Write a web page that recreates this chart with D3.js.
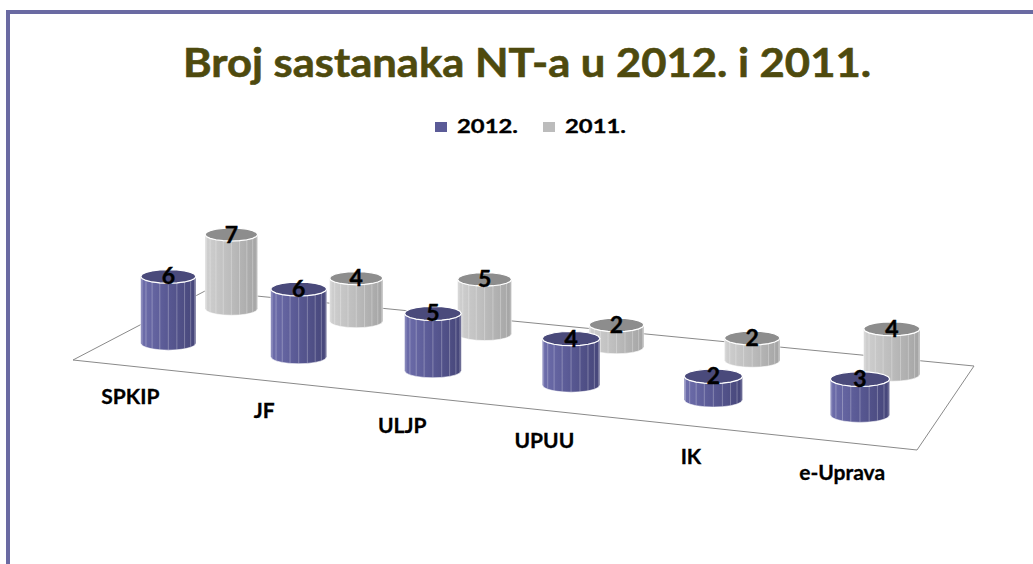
<!DOCTYPE html>
<html>
<head>
<meta charset="utf-8">
<script src="https://cdn.jsdelivr.net/npm/d3@7"></script>
<style>
  body { margin: 0; background: #fff; }
  svg { display: block; }
</style>
</head>
<body>
<div id="chart"></div>
<script>
// chart data
const categories = ["SPKIP", "JF", "ULJP", "UPUU", "IK", "e-Uprava"];
const seriesNames = ["2012.", "2011."];
const values2012 = [6, 6, 5, 4, 2, 3];
const values2011 = [7, 4, 5, 2, 2, 4];
const chartTitle = "Broj sastanaka NT-a u 2012. i 2011.";

const width = 1033, height = 564;

const svg = d3.select("#chart").append("svg")
    .attr("width", width)
    .attr("height", height);

// slide frame (only top and left edges are visible)
svg.append("rect")
    .attr("x", 8).attr("y", 12)
    .attr("width", 1100).attr("height", 700)
    .attr("fill", "none")
    .attr("stroke", "#6a6aa2")
    .attr("stroke-width", 4);

// floor corners on screen: front-left, front-right, back-right, back-left
const floor = [[73, 360], [917, 450], [974, 366], [205, 291]];

// square -> quad homography so the floor gets its perspective
function makeProjection(q) {
    const [x0, y0] = q[0], [x1, y1] = q[1], [x2, y2] = q[2], [x3, y3] = q[3];
    const dx1 = x1 - x2, dy1 = y1 - y2, dx2 = x3 - x2, dy2 = y3 - y2;
    const dx3 = x0 - x1 + x2 - x3, dy3 = y0 - y1 + y2 - y3;
    const den = dx1 * dy2 - dx2 * dy1;
    const g = (dx3 * dy2 - dx2 * dy3) / den;
    const h = (dx1 * dy3 - dx3 * dy1) / den;
    const a = x1 - x0 + g * x1, b = x3 - x0 + h * x3, c = x0;
    const d = y1 - y0 + g * y1, e = y3 - y0 + h * y3, f = y0;
    return function (u, w) {
        const s = g * u + h * w + 1;
        return [(a * u + b * w + c) / s, (d * u + e * w + f) / s, s];
    };
}
const project = makeProjection(floor);

// scales: category along the floor, series in depth, value up
const xScale = d3.scalePoint().domain(categories).range([0.07, 0.915]);
const zScale = d3.scalePoint().domain(seriesNames).range([0.3, 0.8]);
const yScale = d3.scaleLinear().domain([0, 7]).range([0, 80]);
const color = d3.scaleOrdinal().domain(seriesNames).range(["#5b5b97", "#bcbcbc"]);

const shades = {
    "2012.": { light: "#6e6eac", mid: "#5a5a95", dark: "#464679", top: "#4a4a7b" },
    "2011.": { light: "#d0d0d0", mid: "#bebebe", dark: "#a4a4a4", top: "#8d8d8d" }
};

// gradients for the cylinder sides
const defs = svg.append("defs");
seriesNames.forEach((s, i) => {
    const grad = defs.append("linearGradient")
        .attr("id", "side" + i)
        .attr("x1", "0%").attr("x2", "100%").attr("y1", "0%").attr("y2", "0%");
    grad.append("stop").attr("offset", "0%").attr("stop-color", shades[s].light);
    grad.append("stop").attr("offset", "45%").attr("stop-color", shades[s].mid);
    grad.append("stop").attr("offset", "100%").attr("stop-color", shades[s].dark);
});

// floor outline
svg.append("polygon")
    .attr("points", floor.map(p => p.join(",")).join(" "))
    .attr("fill", "none")
    .attr("stroke", "#8a8a8a")
    .attr("stroke-width", 1);

// title
svg.append("text")
    .attr("x", 183).attr("y", 77)
    .attr("font-family", "Lato, 'Open Sans', sans-serif")
    .attr("font-weight", "bold")
    .attr("font-size", 41)
    .attr("fill", "#4e4a0e")
    .attr("stroke", "#4e4a0e")
    .attr("stroke-width", 0.6)
    .attr("textLength", 688)
    .attr("lengthAdjust", "spacingAndGlyphs")
    .text(chartTitle);

// legend
const legendX = [435, 543];
const legend = svg.append("g");
seriesNames.forEach((s, i) => {
    legend.append("rect")
        .attr("x", legendX[i]).attr("y", 122)
        .attr("width", 12).attr("height", 10)
        .attr("fill", color(s));
    legend.append("text")
        .attr("x", legendX[i] + 22).attr("y", 133)
        .attr("font-family", "Lato, sans-serif")
        .attr("font-weight", "bold")
        .attr("font-size", 18)
        .attr("stroke", "#000")
        .attr("stroke-width", 0.3)
        .attr("textLength", 61)
        .attr("lengthAdjust", "spacingAndGlyphs")
        .text(s);
});

// bar records, back row first so the front row overlaps it
const bars = [];
seriesNames.forEach((s, si) => {
    const vals = si === 0 ? values2012 : values2011;
    categories.forEach((c, ci) => bars.push({ series: s, si: si, cat: c, value: vals[ci] }));
});
bars.sort((a, b) => zScale(b.series) - zScale(a.series) || xScale(a.cat) - xScale(b.cat));

const N = 20;           // facets around the cylinder
const radius = 28.3, squash = 7;

const barG = svg.append("g");
bars.forEach(d => {
    const [cx, by, s] = project(xScale(d.cat), zScale(d.series));
    const rx = radius / s, ry = squash / s;
    const ty = by - yScale(d.value) / s;
    const pt = (k, yc) => {
        const t = 2 * Math.PI * k / N;
        return [cx + rx * Math.cos(t), yc + ry * Math.sin(t)];
    };
    const g = barG.append("g");

    // side: bottom front arc then top front arc back
    const side = [];
    for (let k = N / 2; k >= 0; k--) side.push(pt(k, by));
    for (let k = 0; k <= N / 2; k++) side.push(pt(k, ty));
    g.append("path")
        .attr("d", d3.line()(side) + "Z")
        .attr("fill", `url(#side${d.si})`)
        .attr("stroke", "#ffffff")
        .attr("stroke-opacity", 0.7)
        .attr("stroke-width", 0.8);

    // facet edges
    for (let k = 1; k < N / 2; k++) {
        const [x] = pt(k, ty);
        g.append("line")
            .attr("x1", x).attr("x2", x)
            .attr("y1", pt(k, ty)[1]).attr("y2", pt(k, by)[1])
            .attr("stroke", "#ffffff")
            .attr("stroke-opacity", 0.35)
            .attr("stroke-width", 0.8);
    }

    // top
    const top = d3.range(N).map(k => pt(k, ty));
    g.append("path")
        .attr("d", d3.line()(top) + "Z")
        .attr("fill", shades[d.series].top)
        .attr("stroke", "#ffffff")
        .attr("stroke-width", 1.2);

    // value label
    g.append("text")
        .attr("x", cx).attr("y", ty + 8)
        .attr("text-anchor", "middle")
        .attr("font-family", "Lato, sans-serif")
        .attr("font-weight", "bold")
        .attr("font-size", 23)
        .attr("stroke", "#000")
        .attr("stroke-width", 0.4)
        .attr("fill", "#000")
        .text(d.value);
});

// category labels in front of the floor
categories.forEach(c => {
    const [x, y] = project(xScale(c), 0);
    svg.append("text")
        .attr("x", x + 3).attr("y", y + 38)
        .attr("text-anchor", "middle")
        .attr("font-family", "Lato, sans-serif")
        .attr("font-weight", "bold")
        .attr("font-size", 21)
        .attr("stroke", "#000")
        .attr("stroke-width", 0.3)
        .attr("fill", "#000")
        .text(c);
});
</script>
</body>
</html>
